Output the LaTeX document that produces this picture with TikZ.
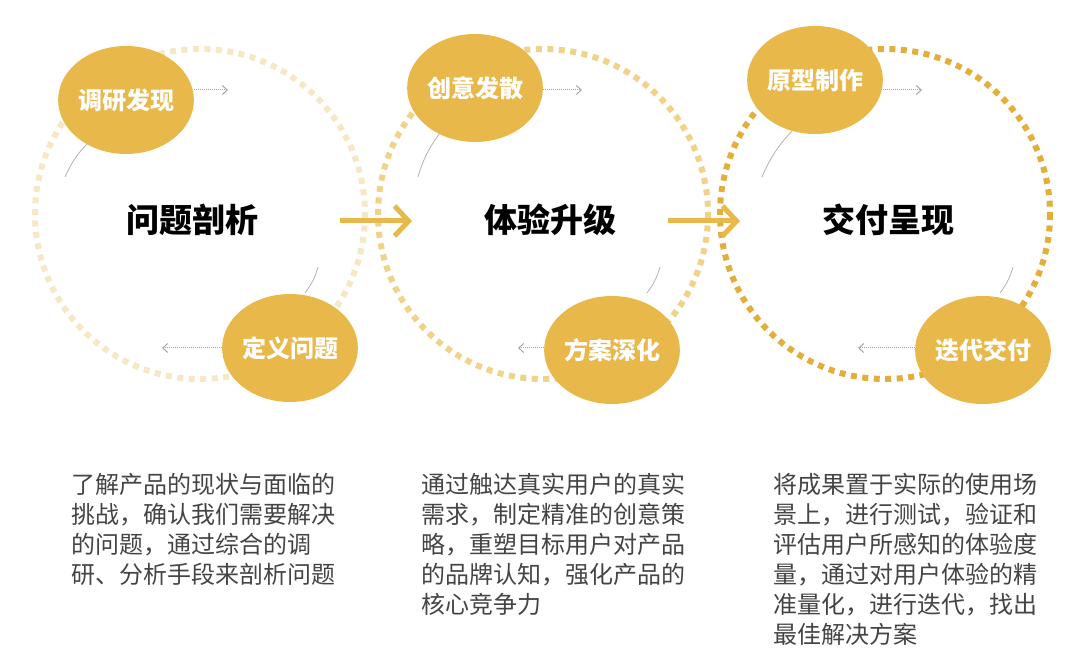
\documentclass[tikz,border=0pt]{standalone}
\usepackage{fontspec}
\setmainfont{Noto Sans CJK SC}
\usetikzlibrary{shapes.geometric,arrows.meta}
\definecolor{gold}{HTML}{E8B84A}
\definecolor{ring1}{HTML}{F6E8C6}
\definecolor{ring2}{HTML}{EFD38A}
\definecolor{ring3}{HTML}{E2AE3C}
\definecolor{txt}{HTML}{444444}
\begin{document}
\begin{tikzpicture}[x=1pt,y=-1pt,
  ring/.style={line width=6pt,dash pattern=on 6pt off 5.5pt},
  blob/.style={ellipse,fill=gold,minimum width=132pt,minimum height=108pt,text=white,font=\fontsize{24}{24}\selectfont\bfseries,inner sep=0pt},
  title/.style={font=\fontsize{33}{33}\selectfont\bfseries,text=black},
  small/.style={draw=gray!70,densely dotted,line width=1pt,-{Straight Barb[length=5pt,width=9pt]}},
  thin/.style={draw=gray!60,line width=0.8pt},
  big/.style={draw=gold,line width=5pt,-{Straight Barb[length=14pt,width=30pt,line width=5pt]}},
  para/.style={anchor=north west,align=left,text width=320pt,font=\fontsize{24}{30}\selectfont,text=txt}]
\useasboundingbox (0,0) rectangle (1080,663);
\draw[ring,ring1] (200,214) circle[radius=165];
\draw[ring,ring2] (543,214) circle[radius=165];
\draw[ring,ring3] (885,214) circle[radius=165];
\draw[thin] (88,143) to[bend right=10] (65,177);
\draw[thin] (318,267) to[bend left=10] (305,293);
\draw[thin] (440,133) to[bend right=10] (418,177);
\draw[thin] (660,267) to[bend left=10] (647,293);
\draw[thin] (793,130) to[bend right=10] (762,177);
\draw[thin] (1013,267) to[bend left=10] (1000,293);
\node[title] (t1) at (192,220) {问题剖析};
\node[title] (t2) at (550,220) {体验升级};
\node[title] (t3) at (888,220) {交付呈现};
\node[blob] (a1) at (126,100) {调研发现};
\node[blob] (a2) at (290,348) {定义问题};
\node[blob] (b1) at (475,88) {创意发散};
\node[blob] (b2) at (612,350) {方案深化};
\node[blob] (c1) at (815,80) {原型制作};
\node[blob] (c2) at (983,350) {迭代交付};
\coordinate (a1e) at (228,90); \coordinate (a2e) at (162,348);
\coordinate (b1e) at (582,90); \coordinate (b2e) at (518,348);
\coordinate (c1e) at (922,90); \coordinate (c2e) at (858,348);
\draw[small] (a1.east|-a1e) -- (a1e);
\draw[small] (a2.west|-a2e) -- (a2e);
\draw[small] (b1.east|-b1e) -- (b1e);
\draw[small] (b2.west|-b2e) -- (b2e);
\draw[small] (c1.east|-c1e) -- (c1e);
\draw[small] (c2.west|-c2e) -- (c2e);
\coordinate (r1s) at (340,221); \coordinate (r1e) at (412,221);
\coordinate (r2s) at (668,221); \coordinate (r2e) at (740,221);
\draw[big] (r1s) -- (r1e);
\draw[big] (r2s) -- (r2e);
\node[para] (p1) at (68,470) {了解产品的现状与面临的\\挑战，确认我们需要解决\\的问题，通过综合的调\\研、分析手段来剖析问题};
\node[para] (p2) at (418,470) {通过触达真实用户的真实\\需求，制定精准的创意策\\略，重塑目标用户对产品\\的品牌认知，强化产品的\\核心竞争力};
\node[para] (p3) at (770,470) {将成果置于实际的使用场\\景上，进行测试，验证和\\评估用户所感知的体验度\\量，通过对用户体验的精\\准量化，进行迭代，找出\\最佳解决方案};
\end{tikzpicture}
\end{document}
